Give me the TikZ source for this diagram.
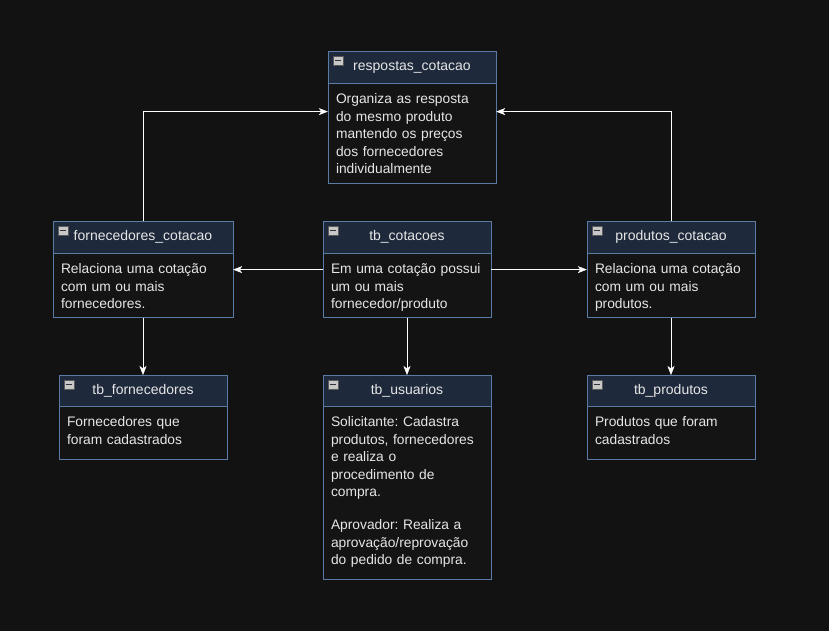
\documentclass[tikz,border=0pt]{standalone}
\usepackage{fontspec}
\setmainfont{Liberation Sans}
\usetikzlibrary{arrows.meta}
\frenchspacing

\definecolor{bgc}{HTML}{121212}
\definecolor{hdrc}{HTML}{1E293B}
\definecolor{bordc}{HTML}{5A7BA3}
\definecolor{bodyc}{HTML}{141414}
\definecolor{txtc}{HTML}{E6E6E6}
\definecolor{iconc}{HTML}{C8C8C8}

\tikzset{
  hdr/.style={draw=bordc, fill=hdrc, text=txtc, anchor=north, minimum height=32pt, inner sep=0pt, font=\fontsize{14}{16}\selectfont},
  body/.style={draw=bordc, fill=bodyc, text=txtc, anchor=north, inner xsep=8pt, inner ysep=8pt, align=left, text height=12pt, font=\fontsize{13.8}{17.5}\selectfont},
  link/.style={draw=white, -{Stealth[length=9pt,width=7pt,inset=2.5pt]}},
  icon/.style={draw=gray!70!black, fill=iconc}
}

\begin{document}
\begin{tikzpicture}[x=1pt, y=-1pt]
  \fill[bgc] (0,0) rectangle (829,631);
  \useasboundingbox (0,0) rectangle (829,631);

  % tables
  \node[hdr, minimum width=168pt] (resp-h) at (412,51) {respostas\_cotacao};
  \node[body, text width=152pt, text depth=72pt] (resp-b) at (resp-h.south) {Organiza as resposta\\do mesmo produto\\mantendo os preços\\dos fornecedores\\individualmente};

  \node[hdr, minimum width=180pt] (fcot-h) at (143,221) {fornecedores\_cotacao};
  \node[body, text width=164pt, text depth=36pt] (fcot-b) at (fcot-h.south) {Relaciona uma cotação\\com um ou mais\\fornecedores.};

  \node[hdr, minimum width=168pt] (cot-h) at (407,221) {tb\_cotacoes};
  \node[body, text width=152pt, text depth=36pt] (cot-b) at (cot-h.south) {Em uma cotação possui\\um ou mais\\fornecedor/produto};

  \node[hdr, minimum width=168pt] (pcot-h) at (671,221) {produtos\_cotacao};
  \node[body, text width=152pt, text depth=36pt] (pcot-b) at (pcot-h.south) {Relaciona uma cotação\\com um ou mais\\produtos.};

  \node[hdr, minimum width=168pt, minimum height=31pt] (tforn-h) at (143,375) {tb\_fornecedores};
  \node[body, text width=152pt, text depth=25pt] (tforn-b) at (tforn-h.south) {Fornecedores que\\foram cadastrados};

  \node[hdr, minimum width=168pt, minimum height=31pt] (tusu-h) at (407,375) {tb\_usuarios};
  \node[body, text width=152pt, text depth=145pt] (tusu-b) at (tusu-h.south) {Solicitante: Cadastra\\produtos, fornecedores\\e realiza o\\procedimento de\\compra.\\[15.5pt]Aprovador: Realiza a\\aprovação/reprovação\\do pedido de compra.};

  \node[hdr, minimum width=168pt, minimum height=31pt] (tprod-h) at (671,375) {tb\_produtos};
  \node[body, text width=152pt, text depth=25pt] (tprod-b) at (tprod-h.south) {Produtos que foram\\cadastrados};

  % collapse icons
  \foreach \t in {resp-h, fcot-h, cot-h, pcot-h, tforn-h, tusu-h, tprod-h} {
    \draw[icon] ([shift={(5,5)}]\t.north west) rectangle ++(10,9);
    \draw[line width=1.2pt, black!80] ([shift={(7,9.5)}]\t.north west) -- ++(6,0);
  }

  % links
  \draw[link] (fcot-h.north) |- ([yshift=22pt]resp-b.west);
  \draw[link] (pcot-h.north) |- ([yshift=22pt]resp-b.east);
  \draw[link] ([yshift=16pt]cot-b.west) -- ([yshift=16pt]fcot-b.east);
  \draw[link] ([yshift=16pt]cot-b.east) -- ([yshift=16pt]pcot-b.west);
  \draw[link] (fcot-b.south) -- (tforn-h.north);
  \draw[link] (cot-b.south) -- (tusu-h.north);
  \draw[link] (pcot-b.south) -- (tprod-h.north);
\end{tikzpicture}
\end{document}
